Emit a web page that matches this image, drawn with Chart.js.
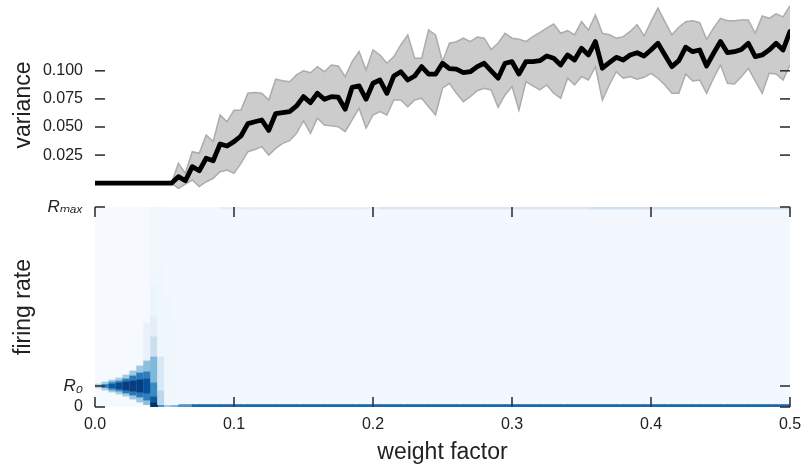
<!DOCTYPE html>
<html><head><meta charset="utf-8">
<script src="https://cdn.jsdelivr.net/npm/chart.js@4.4.1/dist/chart.umd.min.js"></script>
<style>
html,body{margin:0;padding:0;background:#fff;width:804px;height:467px;overflow:hidden}
canvas{position:absolute;left:0}
#heat{top:180px}
#vari{top:0}
</style></head><body>
<canvas id="heat" width="804" height="287"></canvas>
<canvas id="vari" width="804" height="210"></canvas>
<script>
// ---------- data ----------
const weightFactor = Array.from({length: 101}, (_, i) => +(i * 0.005).toFixed(3));
const weightTicks = [0, 0.1, 0.2, 0.3, 0.4, 0.5];
const varianceTicks = [0.025, 0.05, 0.075, 0.1];

const varianceMean = [
  0,0,0,0,0,0,0,0,0,0,0,0,
  0.0058,0.0022,0.0147,0.0111,0.0222,0.0200,0.0349,0.0331,0.0370,0.0420,
  0.0530,0.0547,0.0562,0.0470,0.0620,0.0628,0.0637,0.0687,0.0770,0.0717,
  0.0800,0.0747,0.0770,0.0765,0.0658,0.0853,0.0865,0.0747,0.0889,0.0918,
  0.0800,0.0954,0.0992,0.0918,0.0954,0.1037,0.0970,0.0970,0.1067,0.1020,
  0.1014,0.0983,0.0992,0.1037,0.1067,0.1000,0.0934,0.1067,0.1081,0.0972,
  0.1081,0.1081,0.1090,0.1132,0.1112,0.1052,0.1141,0.1096,0.1200,0.1141,
  0.1260,0.1023,0.1072,0.1120,0.1096,0.1141,0.1161,0.1132,0.1185,0.1245,
  0.1141,0.1037,0.1090,0.1210,0.1170,0.1185,0.1043,0.1156,0.1260,0.1161,
  0.1170,0.1190,0.1245,0.1126,0.1141,0.1186,0.1245,0.1185,0.1350
];
const varianceUpper = [
  0,0,0,0,0,0,0,0,0,0,0,0,
  0.0177,0.0088,0.0280,0.0266,0.0429,0.0370,0.0607,0.0547,0.0650,0.0650,
  0.0800,0.0806,0.0800,0.0740,0.0925,0.0912,0.0903,0.0963,0.1001,0.0983,
  0.1037,0.0992,0.1052,0.1043,0.0948,0.1081,0.1170,0.1007,0.1185,0.1141,
  0.1067,0.1126,0.1230,0.1319,0.1112,0.1112,0.1363,0.1319,0.1081,0.1245,
  0.1259,0.1290,0.1260,0.1300,0.1290,0.1190,0.1245,0.1334,0.1290,0.1280,
  0.1260,0.1304,0.1340,0.1380,0.1417,0.1334,0.1357,0.1320,0.1437,0.1363,
  0.1497,0.1334,0.1320,0.1290,0.1304,0.1350,0.1410,0.1310,0.1437,0.1557,
  0.1437,0.1320,0.1388,0.1437,0.1446,0.1428,0.1280,0.1380,0.1467,0.1446,
  0.1446,0.1453,0.1453,0.1334,0.1488,0.1467,0.1506,0.1480,0.1577
];
const varianceLower = [
  0,0,0,0,0,0,0,0,0,0,0,0,
  -0.0046,-0.0007,0.0028,-0.0030,0.0013,0.0044,0.0102,0.0117,0.0088,0.0177,
  0.0280,0.0300,0.0325,0.0250,0.0310,0.0355,0.0378,0.0444,0.0556,0.0444,
  0.0578,0.0518,0.0510,0.0503,0.0458,0.0563,0.0667,0.0489,0.0607,0.0637,
  0.0607,0.0740,0.0740,0.0680,0.0740,0.0756,0.0680,0.0607,0.0845,0.0889,
  0.0800,0.0725,0.0770,0.0823,0.0845,0.0830,0.0675,0.0785,0.0860,0.0651,
  0.0903,0.0865,0.0830,0.0874,0.0800,0.0756,0.0934,0.0874,0.0948,0.0918,
  0.1037,0.0740,0.0874,0.0992,0.0934,0.0948,0.0925,0.0942,0.0978,0.0934,
  0.0874,0.0800,0.0800,0.0972,0.0910,0.0918,0.0800,0.0934,0.1052,0.0889,
  0.0883,0.0948,0.1023,0.0910,0.0800,0.0978,0.0972,0.0918,0.1052
];

// heat map: 100 weight-factor columns (0.005 wide), firing rate 0..Rmax
const heatColumns = 100;
const heatColumnWidth = 0.005;
const rateMax = 100;
const rateR0 = 10.5;
const rateTicks = [0, rateR0, rateMax];
const rateTickLabels = ['0', 'R\u2080', 'R\u2098\u2090\u2093'];
// [firstColumn, lastColumn, level]
const heatBackground = [[0, 7, 0.005], [8, 9, 0.03], [10, 99, 0.02]];
const heatZeroRow = [[9, 9, 0.6], [10, 10, 0.35], [11, 11, 0.45], [12, 13, 0.6], [14, 99, 0.78]];
const heatTopRow = [[18, 40, 0.1], [41, 70, 0.16], [71, 99, 0.2]];
// [column, rateLow, rateHigh, level]
const heatPatches = [
  [0, 9.5, 11.5, 0.3],
  [1, 8.5, 12.5, 0.35], [1, 9.8, 11.2, 0.7],
  [2, 7.5, 13.5, 0.35], [2, 8.5, 12.5, 0.6], [2, 9.5, 11.5, 0.85],
  [3, 6.5, 14.5, 0.35], [3, 8, 13, 0.65], [3, 9, 12, 0.9],
  [4, 5.5, 16, 0.36], [4, 7, 14, 0.72], [4, 8.5, 12.5, 0.95],
  [5, 4, 18, 0.38], [5, 6, 15.5, 0.72], [5, 8, 13, 0.95],
  [6, 2.5, 20.5, 0.38], [6, 5, 17, 0.72], [6, 7.5, 13.5, 0.95],
  [7, 23, 42, 0.07], [7, 1.2, 23, 0.42], [7, 3.5, 17.5, 0.7], [7, 7, 14, 0.88],
  [8, 45, 62, 0.05], [8, 35, 45, 0.1], [8, 25, 35, 0.22], [8, 12, 25, 0.45],
  [8, 5, 12, 0.65], [8, 2, 5, 0.85], [8, 0, 2, 1.0],
  [9, 25, 70, 0.04], [9, 8, 25, 0.15], [9, 1.2, 8, 0.28],
  [10, 1.2, 55, 0.04], [11, 1.2, 45, 0.035]
];
const zeroRowTop = 1.2;
const topRowBottom = 99;

// ---------- helpers ----------
const FONT = "'Liberation Sans', 'DejaVu Sans', Arial, sans-serif";
const BLUES = ['#f7fbff','#deebf7','#c6dbef','#9ecae1','#6baed6','#4292c6','#2171b5','#08519c','#08306b'];
function hex(h){return [1,3,5].map(i=>parseInt(h.substr(i,2),16));}
const BL = BLUES.map(hex);
function blues(v){
  v = Math.max(0, Math.min(1, v));
  const p = v * 8, i = Math.min(7, Math.floor(p)), t = p - i;
  const a = BL[i], b = BL[i+1];
  return 'rgb(' + a.map((c,k)=>Math.round(c + (b[k]-c)*t)).join(',') + ')';
}
const colCenter = c => (c + 0.5) * heatColumnWidth;

const heatCells = [];
const addRuns = (runs, lo, hi) => runs.forEach(([a,b,v]) => {
  for (let c = a; c <= b; c++) heatCells.push({x: colCenter(c), y: [lo, hi], v});
});
addRuns(heatBackground, 0, rateMax);
addRuns(heatZeroRow, 0, zeroRowTop);
addRuns(heatTopRow, topRowBottom, rateMax);
heatPatches.forEach(([c, lo, hi, v]) => heatCells.push({x: colCenter(c), y: [lo, hi], v}));

const pts = arr => arr.map((v, i) => ({x: weightFactor[i], y: v}));

// inward tick marks drawn at the scales' own tick positions
const innerTicks = {
  id: 'innerTicks',
  afterDraw(chart, args, opts) {
    const {ctx, chartArea: a} = chart;
    const L = 10;
    ctx.save();
    ctx.strokeStyle = '#333';
    ctx.lineWidth = 1.6;
    const seg = (x1,y1,x2,y2) => {ctx.beginPath(); ctx.moveTo(x1,y1); ctx.lineTo(x2,y2); ctx.stroke();};
    if (opts.y) chart.scales.y.ticks.forEach(t => {
      const py = chart.scales.y.getPixelForValue(t.value);
      seg(a.left, py, a.left + L, py); seg(a.right - L, py, a.right, py);
    });
    if (opts.x) chart.scales.x.ticks.forEach(t => {
      const px = chart.scales.x.getPixelForValue(t.value);
      seg(px, a.top, px, a.top + L); seg(px, a.bottom - L, px, a.bottom);
    });
    ctx.restore();
  }
};
const fitY = s => { s.width = 95; s.paddingTop = 0; s.paddingBottom = 0; };
const fitX = s => { s.height = 60; s.paddingLeft = 0; s.paddingRight = 0; };

// ---------- bottom panel: firing-rate heat map ----------
new Chart(document.getElementById('heat'), {
  type: 'bar',
  data: {datasets: [{
    data: heatCells,
    backgroundColor: c => blues(c.raw.v),
    borderWidth: 0,
    categoryPercentage: 1, barPercentage: 1, grouped: false,
    inflateAmount: 0.4
  }]},
  options: {
    responsive: false, animation: false, devicePixelRatio: 1,
    layout: {padding: {left: 0, right: 14, top: 27, bottom: 0}, autoPadding: false},
    plugins: {legend: {display: false}, tooltip: {enabled: false}, innerTicks: {x: true, y: true}},
    scales: {
      x: {
        type: 'linear', min: 0, max: 0.5, offset: false,
        afterBuildTicks: s => { s.ticks = weightTicks.map(v => ({value: v})); },
        grid: {display: false, drawTicks: false, offset: false}, border: {display: false},
        ticks: {padding: 8, color: '#222', font: {family: FONT, size: 16}, maxRotation: 0, autoSkip: false,
                callback: v => v.toFixed(1)},
        title: {display: true, text: 'weight factor', color: '#222', font: {family: FONT, size: 23},
                padding: {top: 0, bottom: 1}},
        afterFit: fitX
      },
      y: {
        min: 0, max: rateMax,
        afterBuildTicks: s => { s.ticks = rateTicks.map(v => ({value: v})); },
        grid: {display: false, drawTicks: false}, border: {display: false},
        ticks: {padding: 12, color: '#222', autoSkip: false,
                font: c => ({family: FONT, size: (c.tick && c.tick.value > 0) ? 17 : 16,
                             style: (c.tick && c.tick.value > 0) ? 'italic' : 'normal'}),
                callback: (v, i) => rateTickLabels[i]},
        title: {display: true, text: 'firing rate', color: '#222', font: {family: FONT, size: 23},
                padding: {top: 10, bottom: 0}},
        afterFit: fitY
      }
    }
  },
  plugins: [innerTicks]
});

// ---------- top panel: variance ----------
new Chart(document.getElementById('vari'), {
  type: 'line',
  data: {datasets: [
    {data: pts(varianceMean), borderColor: '#000', borderWidth: 4.8, fill: false, order: 0,
     borderJoinStyle: 'round', borderCapStyle: 'round'},
    {data: pts(varianceUpper), borderColor: '#acacac', borderWidth: 1.5, backgroundColor: '#cccccc', fill: '+1', order: 1},
    {data: pts(varianceLower), borderColor: '#acacac', borderWidth: 1.5, fill: false, order: 2}
  ]},
  options: {
    responsive: false, animation: false, devicePixelRatio: 1,
    layout: {padding: {left: 0, right: 14, top: 2, bottom: 2}, autoPadding: false},
    elements: {point: {radius: 0}, line: {tension: 0}},
    plugins: {legend: {display: false}, tooltip: {enabled: false},
              filler: {drawTime: 'beforeDatasetsDraw'}, innerTicks: {y: true}},
    scales: {
      x: {type: 'linear', min: 0, max: 0.5, display: false},
      y: {
        min: -0.02206, max: 0.16121,
        afterBuildTicks: s => { s.ticks = varianceTicks.map(v => ({value: v})); },
        grid: {display: false, drawTicks: false}, border: {display: false},
        ticks: {padding: 12, color: '#222', font: {family: FONT, size: 16}, callback: v => v.toFixed(3)},
        title: {display: true, text: 'variance', color: '#222', font: {family: FONT, size: 23},
                padding: {top: 10, bottom: 0}},
        afterFit: fitY
      }
    }
  },
  plugins: [innerTicks]
});
</script>
</body></html>
